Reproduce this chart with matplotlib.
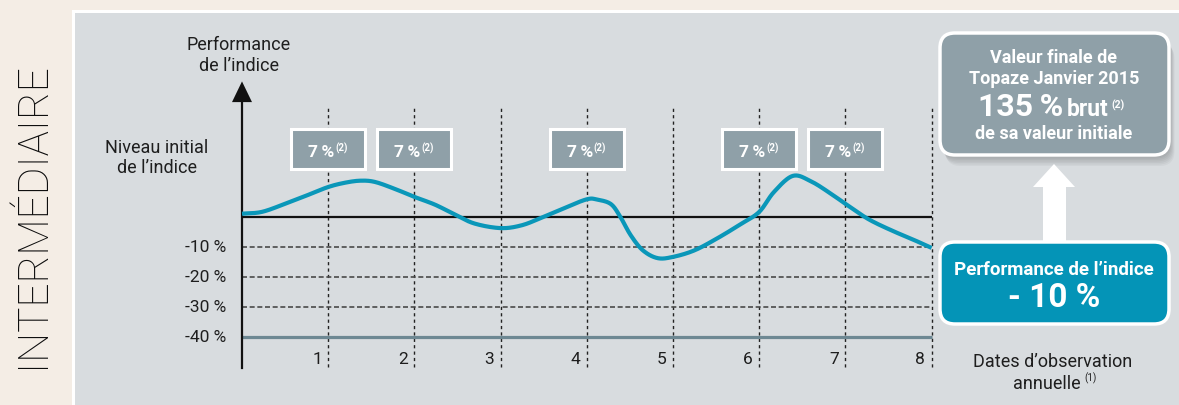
import numpy as np
import matplotlib
matplotlib.use('Agg')
import matplotlib.pyplot as plt
from matplotlib.patches import Rectangle, FancyBboxPatch, Polygon

plt.rcParams['font.family'] = ['Roboto', 'DejaVu Sans']

# ---------------- data ----------------
obs_dates = [1, 2, 3, 4, 5, 6, 7, 8]
obs_labels = ['1', '2', '3', '4', '5', '6', '7', '8']
level_values = [-10, -20, -30]
level_labels = ['-10 %', '-20 %', '-30 %', '-40 %']
barrier_level = -40
coupon_dates = [1, 2, 4, 6, 7]
coupon_text = '7\u2009%'
curve_t = [0, 0.23, 0.5, 0.77, 1.0, 1.19, 1.37, 1.54, 1.77, 2.0, 2.24, 2.47,
           2.70, 3.0, 3.24, 3.47, 3.74, 4.0, 4.12, 4.28, 4.39, 4.51, 4.65,
           4.82, 5.0, 5.25, 5.52, 5.79, 6.0, 6.17, 6.39, 6.60, 6.83, 7.0,
           7.26, 7.53, 7.76, 8.0]
curve_perf = [1.1, 1.7, 4.4, 7.4, 10.0, 11.4, 12.1, 11.7, 9.4, 6.7, 4.1, 0.8,
              -2.2, -3.7, -2.8, -0.3, 3.0, 5.9, 5.8, 4.3, 0.0, -6.1, -11.1,
              -13.7, -13.3, -11.1, -7.0, -2.3, 1.7, 8.3, 13.7, 11.9, 7.8, 4.4,
              -0.6, -4.4, -7.2, -10.3]
final_perf_text = '- 10 %'
final_value_text = '135\u2009%'

# ---------------- colours ----------------
BEIGE = '#f4ede5'
PANEL = '#d8dcdf'
BOXGRAY = '#8fa0a8'
TEAL = '#0494b7'
CURVE = '#0a97b9'
BARRIER = '#6d8893'
TXT = '#1e1e1e'

W, H = 1179, 406
PT = 72 / 100  # points per pixel
fig = plt.figure(figsize=(W / 100, H / 100), dpi=100)
fig.patch.set_facecolor(BEIGE)

# background / decoration axes in pixel coordinates
bg = fig.add_axes([0, 0, 1, 1], zorder=0)
bg.set_xlim(0, W)
bg.set_ylim(H, 0)
bg.axis('off')
bg.add_patch(Rectangle((72, 11), W, H, fc='white', ec='none'))
bg.add_patch(Rectangle((75, 14), W, H, fc=PANEL, ec='none'))
bg.text(32, 215, 'INTERMÉDIAIRE', rotation=90, ha='center', va='center',
        fontsize=30.5, fontweight='light', color='#0d0d0d',
        family=['Roboto', 'DejaVu Sans'])

# chart axes
ax = fig.add_axes([0, 0, 1, 1], zorder=2)
ax.set_facecolor('none')
ax.axis('off')
X0, SX = 242, 86.2
Y0, SY = 218, 3.0
ax.set_xlim(-X0 / SX, (W - X0) / SX)
ax.set_ylim((Y0 - H) / SY, Y0 / SY)

xmax = obs_dates[-1]
# vertical dashed observation lines
for d in obs_dates:
    ax.plot([d, d], [-50, 36.7], color='#222222', lw=1.0,
            linestyle=(0, (2.3, 2.3)), zorder=1)
# horizontal dashed levels
for v in level_values:
    ax.plot([0, xmax], [v, v], color='#4a4a4a', lw=1.2,
            linestyle=(0, (3.0, 1.6)), zorder=1)
# barrier line
ax.plot([0, xmax], [barrier_level, barrier_level], color=BARRIER, lw=2.3,
        solid_capstyle='butt', zorder=2)
# zero line
ax.plot([0, xmax], [0, 0], color='#111111', lw=1.6, solid_capstyle='butt', zorder=2)
# y axis with arrow
ax.plot([0, 0], [-50.3, 38.5], color='#111111', lw=1.6, zorder=3)
ax.add_patch(Polygon([[-10 / SX, 38.3], [10 / SX, 38.3], [0, 45.2]],
                     closed=True, fc='#111111', ec='none', zorder=3))

# level labels
for v, lab in zip(level_values + [barrier_level], level_labels):
    ax.text(-16 / SX, v, lab, ha='right', va='center', fontsize=12.5, color=TXT)
# observation labels
for d, lab in zip(obs_dates, obs_labels):
    ax.annotate(lab, xy=(d, -47.0), xytext=(-4.5, 0), textcoords='offset points',
                ha='right', va='center', fontsize=12.5, color=TXT)

# axis titles
ax.text(-0.035, 54.2, 'Performance\nde l\u2019indice', ha='center', va='center',
        fontsize=13, color=TXT, linespacing=1.25)
ax.text(-0.986, 20.0, 'Niveau initial\nde l\u2019indice', ha='center', va='center',
        fontsize=13, color=TXT, linespacing=1.2)

# coupon boxes
for d in coupon_dates:
    ax.add_patch(Rectangle((d - 0.43, 16.0), 0.86, 13.3, fc=BOXGRAY, ec='white',
                           lw=2.2, zorder=4))
    ax.annotate(coupon_text, xy=(d, 20.4), xytext=(6.0 * PT, 0),
                textcoords='offset points', ha='right', va='baseline',
                fontsize=12.5, fontweight='bold', color='white', zorder=5)
    ax.annotate('(2)', xy=(d, 22.3), xytext=(7.0 * PT, 0),
                textcoords='offset points', ha='left', va='baseline', fontsize=7,
                fontweight='bold', color='white', zorder=5)

# performance curve (smooth rendering through read points)
t = np.array(curve_t, float)
p = np.array(curve_perf, float)
P = np.column_stack([t, p])
Pext = np.vstack([2 * P[0] - P[1], P, 2 * P[-1] - P[-2]])
seg = []
for i in range(1, len(Pext) - 2):
    p0, p1, p2, p3 = Pext[i - 1], Pext[i], Pext[i + 1], Pext[i + 2]
    s = np.linspace(0, 1, 20, endpoint=False)[:, None]
    c = 0.5 * ((2 * p1) + (-p0 + p2) * s + (2 * p0 - 5 * p1 + 4 * p2 - p3) * s ** 2
               + (-p0 + 3 * p1 - 3 * p2 + p3) * s ** 3)
    seg.append(c)
seg.append(P[-1:])
sm = np.vstack(seg)
ax.plot(sm[:, 0], sm[:, 1], color=CURVE, lw=3.0, solid_capstyle='butt',
        solid_joinstyle='round', zorder=6)

# ---------------- right side boxes (pixel coordinates) ----------------
for k in range(7):
    off = 2 + k * 1.5
    bg.add_patch(FancyBboxPatch((940 + off * 0.5, 34 + off), 229, 122,
                                boxstyle='round,pad=0,rounding_size=15',
                                fc='black', ec='none', alpha=0.035, zorder=2))
bg.add_patch(FancyBboxPatch((940, 34), 229, 122,
                            boxstyle='round,pad=0,rounding_size=15',
                            fc=BOXGRAY, ec='white', lw=2.5, zorder=3))
bg.text(1054, 58, 'Valeur finale de', ha='center', va='center', fontsize=13,
        fontweight='bold', color='white', zorder=4)
bg.text(1054, 79, 'Topaze Janvier 2015', ha='center', va='center', fontsize=13,
        fontweight='bold', color='white', zorder=4)
bg.text(1063, 116, final_value_text, ha='right', va='baseline', fontsize=23,
        fontweight='bold', color='white', zorder=4)
bg.text(1067, 116, 'brut', ha='left', va='baseline', fontsize=16.5,
        fontweight='bold', color='white', zorder=4)
bg.text(1111, 109, '(2)', ha='left', va='baseline', fontsize=7.5,
        fontweight='bold', color='white', zorder=4)
bg.text(1054, 134, 'de sa valeur initiale', ha='center', va='center', fontsize=13,
        fontweight='bold', color='white', zorder=4)

# white arrow
bg.add_patch(Polygon([[1043, 246], [1043, 188], [1033, 188], [1054, 165],
                      [1075, 188], [1066, 188], [1066, 246]],
                     closed=True, fc='white', ec='none', zorder=3))

bg.add_patch(FancyBboxPatch((940, 243), 229, 82,
                            boxstyle='round,pad=0,rounding_size=15',
                            fc=TEAL, ec='white', lw=2.5, zorder=4))
bg.text(1054, 270, 'Performance de l\u2019indice', ha='center', va='center',
        fontsize=13.5, fontweight='bold', color='white', zorder=5)
bg.text(1054, 298, final_perf_text, ha='center', va='center', fontsize=24,
        fontweight='bold', color='white', zorder=5)

bg.text(1053, 362, 'Dates d\u2019observation', ha='center', va='center',
        fontsize=13, color=TXT, zorder=5)
bg.text(1081, 389, 'annuelle', ha='right', va='baseline', fontsize=13,
        color=TXT, zorder=5)
bg.text(1084, 381, '(1)', ha='left', va='baseline', fontsize=7, color=TXT, zorder=5)

fig.savefig('out.png', dpi=100, facecolor=fig.get_facecolor())
